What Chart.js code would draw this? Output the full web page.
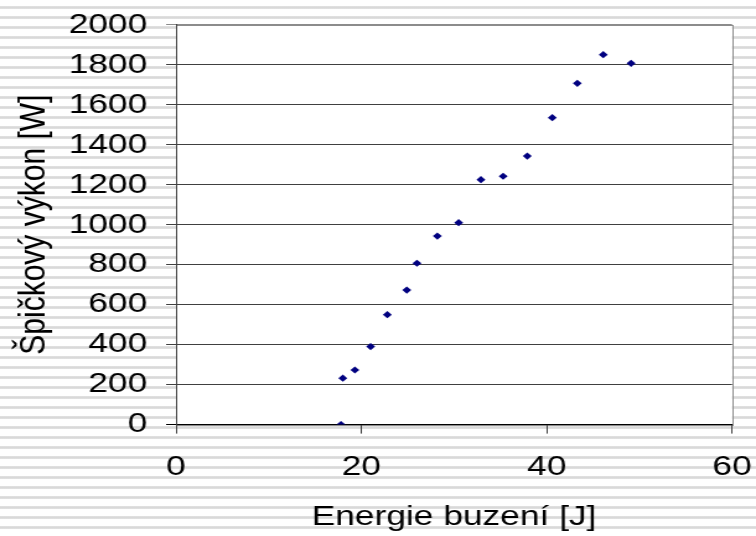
<!DOCTYPE html>
<html>
<head>
<meta charset="utf-8">
<script src="https://cdn.jsdelivr.net/npm/chart.js@4.4.1/dist/chart.umd.min.js"></script>
<style>
  html, body {
    margin: 0;
    padding: 0;
    width: 756px;
    height: 536px;
    overflow: hidden;
    /* striped slide background */
    background: repeating-linear-gradient(to bottom, #ffffff 0px, #ffffff 6px, #e3e3e3 6px, #d9d9d9 7.5px, #e3e3e3 9px, #ffffff 9px, #ffffff 10px);
  }
  #chart { display: block; }
</style>
</head>
<body>
<!-- the source picture is stretched sideways, so the canvas is drawn 610 wide and shown 756 wide -->
<canvas id="chart" width="610" height="536" style="width:756px;height:536px"></canvas>
<script>
// Energie buzení [J] vs. špičkový výkon
const energy = [17.8, 18.0, 19.3, 21.0, 22.8, 24.9, 26.0, 28.2, 30.5, 32.9, 35.3, 37.9, 40.6, 43.3, 46.1, 49.1];
const peakPower = [0, 232, 273, 390, 550, 673, 807, 943, 1010, 1225, 1242, 1343, 1535, 1707, 1850, 1807];

const xTicks = [0, 20, 40, 60];
const yTicks = [0, 200, 400, 600, 800, 1000, 1200, 1400, 1600, 1800, 2000];

const FONT = '"Liberation Sans", Arial, sans-serif';

// white plot area with a grey frame, like the Excel chart
const plotBackground = {
    id: 'plotBackground',
    beforeDraw(chart) {
        const { ctx, chartArea: a } = chart;
        ctx.save();
        ctx.fillStyle = '#ffffff';
        ctx.fillRect(a.left, a.top, a.width, a.height);
        ctx.strokeStyle = '#8c8c8c';
        ctx.lineWidth = 1;
        ctx.strokeRect(Math.round(a.left) + 0.5, Math.round(a.top) + 0.5, Math.round(a.width), Math.round(a.height));
        ctx.restore();
    }
};

// the layout padding alone decides where the plot area sits
function noEdgePadding(scale) {
    scale.paddingLeft = 0;
    scale.paddingRight = 0;
    scale.paddingTop = 0;
    scale.paddingBottom = 0;
}

const points = energy.map((x, i) => ({ x: x, y: peakPower[i] }));

new Chart(document.getElementById('chart'), {
    type: 'scatter',
    data: {
        datasets: [{
            data: points,
            pointStyle: 'rectRot',
            pointRadius: 3.6,
            pointBorderWidth: 0,
            backgroundColor: '#000080',
            borderColor: '#000080'
        }]
    },
    options: {
        responsive: false,
        animation: false,
        layout: { padding: { left: 14.7, right: 19.3, top: 24.7, bottom: 0 } },
        plugins: {
            legend: { display: false },
            tooltip: { enabled: false }
        },
        scales: {
            x: {
                type: 'linear',
                min: 0,
                max: 60,
                afterBuildTicks: s => { s.ticks = xTicks.map(v => ({ value: v })); },
                afterFit: noEdgePadding,
                grid: { drawOnChartArea: false, drawTicks: true, tickLength: 9, color: '#404040' },
                border: { display: true, color: '#000000', width: 1 },
                ticks: {
                    color: '#000',
                    padding: 16,
                    font: { family: FONT, size: 28.5 },
                    callback: v => String(v)
                },
                title: {
                    display: true,
                    text: 'Energie buzení [J]',
                    color: '#000',
                    padding: { top: 0, bottom: 2 },
                    font: { family: FONT, size: 28.5 }
                }
            },
            y: {
                type: 'linear',
                min: 0,
                max: 2000,
                afterBuildTicks: s => { s.ticks = yTicks.map(v => ({ value: v })); },
                afterFit: noEdgePadding,
                grid: {
                    drawTicks: true,
                    tickLength: 8,
                    color: c => (c.tick && c.tick.value === 2000) ? '#8c8c8c' : (c.tick && c.tick.value === 0 ? '#000000' : '#404040')
                },
                border: { display: true, color: '#404040', width: 1 },
                ticks: {
                    color: '#000',
                    padding: 15.2,
                    font: { family: FONT, size: 28.5 },
                    callback: v => String(v)
                },
                title: {
                    display: true,
                    text: 'Špičkový výkon [W]',
                    color: '#000',
                    padding: 0,
                    font: { family: FONT, size: 30, lineHeight: 0.85 }
                }
            }
        }
    },
    plugins: [plotBackground]
});
</script>
</body>
</html>
